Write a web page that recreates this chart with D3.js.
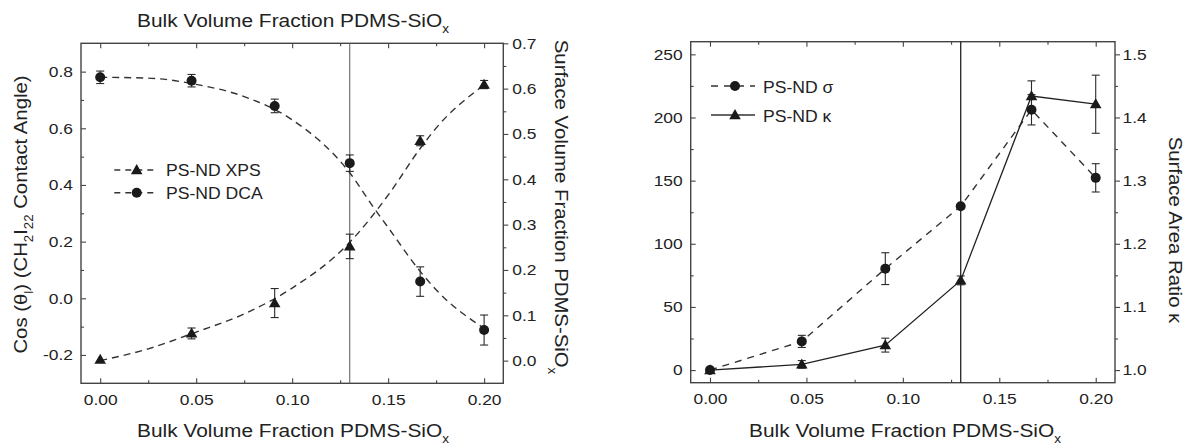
<!DOCTYPE html>
<html><head><meta charset="utf-8">
<script src="https://cdn.jsdelivr.net/npm/d3@7"></script>
<style>
body{margin:0;background:#fff}
svg{display:block}
text{font-family:"Liberation Sans",Arial,sans-serif;fill:#222}
</style>
</head><body>
<svg id="c" width="1189" height="448"></svg>
<script>
// ---------------- data ----------------
const bulkFraction = [0, 0.0476, 0.0909, 0.13, 0.1667, 0.2];
// left panel
const dcaCos  = [0.780, 0.768, 0.679, 0.477, 0.059, -0.112];
const dcaErr  = [0.022, 0.022, 0.024, 0.029, 0.052, 0.053];
const xpsSurface = [0.002, 0.060, 0.127, 0.252, 0.485, 0.609];
const xpsErr  = [0, 0.012, 0.032, 0.027, 0.011, 0.009];
const dcaFitX = [0, 0.025, 0.05, 0.075, 0.1, 0.13, 0.1427, 0.15, 0.1667, 0.175, 0.2];
const dcaFitY = [0.78, 0.777, 0.755, 0.712, 0.63, 0.443, 0.318, 0.25, 0.095, 0.03, -0.106];
const xpsFitX = [0, 0.025, 0.05, 0.075, 0.1, 0.13, 0.15, 0.1667, 0.175, 0.2];
const xpsFitY = [0.0, 0.026, 0.063, 0.103, 0.16, 0.261, 0.365, 0.468, 0.513, 0.608];
// right panel
const sigma    = [0, 22.7, 80.3, 129.7, 206.1, 152.2];
const sigmaErr = [0, 4.8, 12.6, 0, 12, 11.2];
const kappa    = [1.0, 1.009, 1.0395, 1.142, 1.434, 1.421];
const kappaErr = [0, 0.006, 0.011, 0.007, 0.024, 0.046];
const thresholdX = 0.13;
// ticks
const xTicks = [0, 0.05, 0.10, 0.15, 0.20];
const xMinor = [0.025, 0.075, 0.125, 0.175];
const cosTicks = [-0.2, 0.0, 0.2, 0.4, 0.6, 0.8];
const cosMinor = [-0.1, 0.1, 0.3, 0.5, 0.7];
const surfTicks = [0.0, 0.1, 0.2, 0.3, 0.4, 0.5, 0.6, 0.7];
const surfMinor = [0.05, 0.15, 0.25, 0.35, 0.45, 0.55, 0.65];
const sigmaTicks = [0, 50, 100, 150, 200, 250];
const sigmaMinor = [25, 75, 125, 175, 225];
const kappaTicks = [1.0, 1.1, 1.2, 1.3, 1.4, 1.5];
const kappaMinor = [1.05, 1.15, 1.25, 1.35, 1.45];
const xTitle = [["Bulk Volume Fraction PDMS-SiO", 0], ["x", 1]];
const leftTitleL = [["Cos (\u03B8", 0], ["l", 1], [") (CH", 0], ["2", 1], ["I", 0], ["22", 1], [" Contact Angle)", 0]];
const rightTitleL = [["Surface Volume Fraction PDMS-SiO", 0], ["x", 1]];
const rightTitleR = [["Surface Area Ratio \u03BA", 0]];
const legendL = ["PS-ND XPS", "PS-ND DCA"];
const legendR = ["PS-ND \u03C3", "PS-ND \u03BA"];

// ---------------- helpers ----------------
const svg = d3.select("#c");
const INK = "#2a2a2a", FRAME = "#444";
const TICK_FS = 15, TICK_S = 1.16;

function stretchTicks(g, s) {
  g.selectAll(".tick text").each(function () {
    const t = d3.select(this);
    const x = +t.attr("x") || 0;
    t.attr("x", 0).attr("transform", `translate(${x},0) scale(${s},1)`)
     .style("font-size", TICK_FS + "px").attr("fill", "#222");
  });
  g.select(".domain").remove();
  g.selectAll(".tick line").attr("stroke", FRAME).attr("stroke-width", 1.1);
}

function label(x, y, rot, s, size, parts, anchor) {
  const t = svg.append("text")
    .attr("transform", `translate(${x},${y}) rotate(${rot}) scale(${s},1)`)
    .attr("text-anchor", anchor || "middle")
    .style("font-size", size + "px");
  let shifted = false;
  const subSize = Math.round(size * 0.66);
  const shift = size * 0.36;
  parts.forEach(([txt, sub]) => {
    const ts = t.append("tspan").text(txt);
    if (sub) {
      ts.style("font-size", subSize + "px");
      if (!shifted) { ts.attr("dy", shift); shifted = true; }
    } else if (shifted) { ts.attr("dy", -shift); shifted = false; }
  });
  return t;
}

function axes(cfg) {
  const x = d3.scaleLinear().domain([-0.01, 0.21]).range([cfg.x0, cfg.x1]);
  const yL = d3.scaleLinear().domain(cfg.yL).range([cfg.y1, cfg.y0]);
  const yR = d3.scaleLinear().domain(cfg.yR).range([cfg.y1, cfg.y0]);
  // bottom
  let g = svg.append("g").attr("transform", `translate(0,${cfg.y1})`)
    .call(d3.axisBottom(x).tickValues(xTicks).tickFormat(d => d.toFixed(2)).tickSize(-5).tickPadding(11));
  stretchTicks(g, TICK_S);
  g = svg.append("g").attr("transform", `translate(0,${cfg.y1})`)
    .call(d3.axisBottom(x).tickValues(xMinor).tickFormat("").tickSize(-3));
  stretchTicks(g, 1);
  // top
  g = svg.append("g").attr("transform", `translate(0,${cfg.y0})`)
    .call(d3.axisTop(x).tickValues(xTicks).tickFormat("").tickSize(-5));
  stretchTicks(g, 1);
  g = svg.append("g").attr("transform", `translate(0,${cfg.y0})`)
    .call(d3.axisTop(x).tickValues(xMinor).tickFormat("").tickSize(-3));
  stretchTicks(g, 1);
  // left
  g = svg.append("g").attr("transform", `translate(${cfg.x0},0)`)
    .call(d3.axisLeft(yL).tickValues(cfg.lTicks).tickFormat(cfg.lFmt).tickSize(-5).tickPadding(cfg.lPad));
  stretchTicks(g, TICK_S);
  g = svg.append("g").attr("transform", `translate(${cfg.x0},0)`)
    .call(d3.axisLeft(yL).tickValues(cfg.lMinor).tickFormat("").tickSize(-3));
  stretchTicks(g, 1);
  // right
  g = svg.append("g").attr("transform", `translate(${cfg.x1},0)`)
    .call(d3.axisRight(yR).tickValues(cfg.rTicks).tickFormat(cfg.rFmt).tickSize(5).tickPadding(cfg.rPad));
  stretchTicks(g, TICK_S);
  g = svg.append("g").attr("transform", `translate(${cfg.x1},0)`)
    .call(d3.axisRight(yR).tickValues(cfg.rMinor).tickFormat("").tickSize(3));
  stretchTicks(g, 1);
  // frame
  svg.append("rect").attr("x", cfg.x0).attr("y", cfg.y0)
    .attr("width", cfg.x1 - cfg.x0).attr("height", cfg.y1 - cfg.y0)
    .attr("fill", "none").attr("stroke", FRAME).attr("stroke-width", 1.4);
  return { x, yL, yR };
}

const triangle = d3.symbol().type(d3.symbolTriangle).size(58);

function errorBars(g, xs, ys, es, x, y) {
  xs.forEach((xv, i) => {
    if (!es[i]) return;
    const cx = x(xv), ya = y(ys[i] - es[i]), yb = y(ys[i] + es[i]);
    g.append("line").attr("x1", cx).attr("x2", cx).attr("y1", ya).attr("y2", yb);
    g.append("line").attr("x1", cx - 4).attr("x2", cx + 4).attr("y1", ya).attr("y2", ya);
    g.append("line").attr("x1", cx - 4).attr("x2", cx + 4).attr("y1", yb).attr("y2", yb);
  });
  g.attr("stroke", INK).attr("stroke-width", 1.1);
}
function circles(g, xs, ys, x, y) {
  g.selectAll("circle").data(xs).join("circle")
    .attr("cx", d => x(d)).attr("cy", (d, i) => y(ys[i])).attr("r", 5).attr("fill", "#1a1a1a");
}
function triangles(g, xs, ys, x, y) {
  g.selectAll("path").data(xs).join("path")
    .attr("d", triangle).attr("transform", (d, i) => `translate(${x(d)},${y(ys[i]) + 0.8})`).attr("fill", "#1a1a1a");
}

// ---------------- left panel ----------------
const L = axes({
  x0: 81, x1: 503.3, y0: 43.3, y1: 383.3,
  yL: [-0.3, 0.9], yR: [-0.05, 0.7],
  lTicks: cosTicks, lMinor: cosMinor, lFmt: d => d.toFixed(1), lPad: 8,
  rTicks: surfTicks, rMinor: surfMinor, rFmt: d => d.toFixed(1), rPad: 4
});
svg.append("line").attr("x1", L.x(thresholdX)).attr("x2", L.x(thresholdX))
  .attr("y1", 43.3).attr("y2", 383.3).attr("stroke", "#666").attr("stroke-width", 1.1);
svg.append("path").datum(dcaFitX.map((d, i) => [d, dcaFitY[i]]))
  .attr("d", d3.line().x(d => L.x(d[0])).y(d => L.yL(d[1])).curve(d3.curveMonotoneX))
  .attr("fill", "none").attr("stroke", "#333").attr("stroke-width", 1.4).attr("stroke-dasharray", "7,5");
svg.append("path").datum(xpsFitX.map((d, i) => [d, xpsFitY[i]]))
  .attr("d", d3.line().x(d => L.x(d[0])).y(d => L.yR(d[1])).curve(d3.curveMonotoneX))
  .attr("fill", "none").attr("stroke", "#333").attr("stroke-width", 1.4).attr("stroke-dasharray", "7,5");
errorBars(svg.append("g"), bulkFraction, dcaCos, dcaErr, L.x, L.yL);
errorBars(svg.append("g"), bulkFraction, xpsSurface, xpsErr, L.x, L.yR);
circles(svg.append("g"), bulkFraction, dcaCos, L.x, L.yL);
triangles(svg.append("g"), bulkFraction, xpsSurface, L.x, L.yR);

// left legend
[[170, "tri"], [192.7, "cir"]].forEach(([ly, m], i) => {
  svg.append("line").attr("x1", 114.3).attr("x2", 157).attr("y1", ly).attr("y2", ly)
    .attr("stroke", "#333").attr("stroke-width", 1.4).attr("stroke-dasharray", "6,5");
  if (m === "tri") svg.append("path").attr("d", triangle).attr("transform", `translate(136.7,${ly + 0.8})`).attr("fill", "#1a1a1a");
  else svg.append("circle").attr("cx", 136.7).attr("cy", ly).attr("r", 5).attr("fill", "#1a1a1a");
  label(166, ly + 5.8, 0, 1.1, 16, [[legendL[i], 0]], "start");
});

label(293, 26.7, 0, 1.13, 18.5, xTitle);
label(293, 436.7, 0, 1.13, 18.5, xTitle);
label(26.5, 214.5, -90, 1.1, 18.5, leftTitleL);
label(555, 207, 90, 1.1, 18.5, rightTitleL);

// ---------------- right panel ----------------
const R = axes({
  x0: 690.7, x1: 1115, y0: 41.7, y1: 382.7,
  yL: [-10, 260], yR: [0.98, 1.52],
  lTicks: sigmaTicks, lMinor: sigmaMinor, lFmt: d => String(d), lPad: 8,
  rTicks: kappaTicks, rMinor: kappaMinor, rFmt: d => d.toFixed(1), rPad: 2.5
});
svg.append("line").attr("x1", R.x(thresholdX)).attr("x2", R.x(thresholdX))
  .attr("y1", 41.7).attr("y2", 382.7).attr("stroke", "#222").attr("stroke-width", 1.3);
svg.append("path").datum(bulkFraction.map((d, i) => [d, sigma[i]]))
  .attr("d", d3.line().x(d => R.x(d[0])).y(d => R.yL(d[1])))
  .attr("fill", "none").attr("stroke", "#333").attr("stroke-width", 1.4).attr("stroke-dasharray", "7,6");
svg.append("path").datum(bulkFraction.map((d, i) => [d, kappa[i]]))
  .attr("d", d3.line().x(d => R.x(d[0])).y(d => R.yR(d[1])))
  .attr("fill", "none").attr("stroke", "#222").attr("stroke-width", 1.3);
errorBars(svg.append("g"), bulkFraction, sigma, sigmaErr, R.x, R.yL);
errorBars(svg.append("g"), bulkFraction, kappa, kappaErr, R.x, R.yR);
circles(svg.append("g"), bulkFraction, sigma, R.x, R.yL);
triangles(svg.append("g"), bulkFraction, kappa, R.x, R.yR);

// right legend
[[86, "cir", "7,6"], [115, "tri", null]].forEach(([ly, m, dash], i) => {
  const ln = svg.append("line").attr("x1", 711).attr("x2", 755).attr("y1", ly).attr("y2", ly)
    .attr("stroke", "#333").attr("stroke-width", 1.4);
  if (dash) ln.attr("stroke-dasharray", dash);
  if (m === "tri") svg.append("path").attr("d", triangle).attr("transform", `translate(735,${ly + 0.8})`).attr("fill", "#1a1a1a");
  else svg.append("circle").attr("cx", 735).attr("cy", ly).attr("r", 5).attr("fill", "#1a1a1a");
  label(763, ly + 6.5, 0, 1.1, 16, [[legendR[i], 0]], "start");
});

label(905, 436.7, 0, 1.13, 18.5, xTitle);
label(1168.5, 230, 90, 1.1, 18.5, rightTitleR);
</script>
</body></html>
